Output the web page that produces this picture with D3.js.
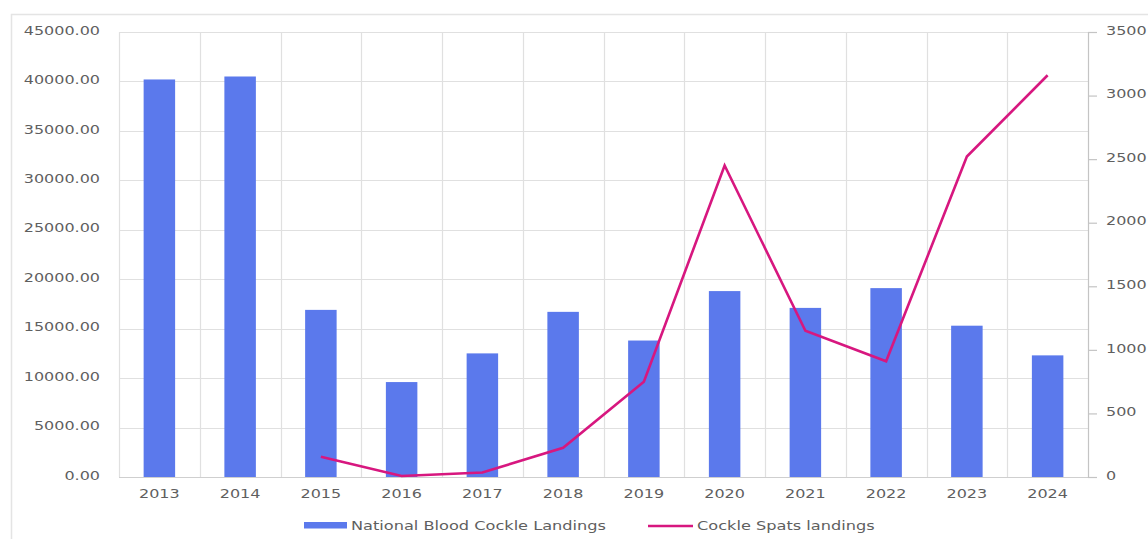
<!DOCTYPE html>
<html>
<head>
<meta charset="utf-8">
<script src="https://cdn.jsdelivr.net/npm/d3@7"></script>
<style>
  html, body { margin: 0; padding: 0; background: #fff; }
  svg { display: block; }
  text { font-family: "DejaVu Sans", sans-serif; fill: #5f5f5f; }
</style>
</head>
<body>
<svg id="chart" width="1148" height="539"></svg>
<script>
// Landings by year
const years = ["2013","2014","2015","2016","2017","2018","2019","2020","2021","2022","2023","2024"];
const bloodCockle = [40200, 40500, 16900, 9600, 12500, 16700, 13800, 18800, 17100, 19100, 15300, 12300];
const spatYears = ["2015","2016","2017","2018","2019","2020","2021","2022","2023","2024"];
const cockleSpats = [160, 8, 35, 230, 750, 2450, 1150, 910, 2520, 3160];
const leftTicks = [0, 5000, 10000, 15000, 20000, 25000, 30000, 35000, 40000, 45000];
const rightTicks = [0, 500, 1000, 1500, 2000, 2500, 3000, 3500];
const seriesNames = ["National Blood Cockle Landings", "Cockle Spats landings"];

const barColor = "#5b79ec";
const lineColor = "#d7177f";
const gridColor = "#e0e0e0";
const X_STRETCH = 1.23;

const svg = d3.select("#chart");
const m = { left: 119, right: 1088, top: 32, bottom: 477 };

const x = d3.scaleBand().domain(years).range([m.left, m.right]).paddingInner(0).paddingOuter(0);
const yL = d3.scaleLinear().domain([0, 45000]).range([m.bottom, m.top]);
const yR = d3.scaleLinear().domain([0, 3500]).range([m.bottom, m.top]);

// widen text glyphs horizontally around their anchor point
function stretch(sel, k) {
  sel.each(function () {
    const t = d3.select(this);
    const tx = +t.attr("x") || 0, ty = +t.attr("y") || 0;
    t.attr("x", 0).attr("y", 0)
     .attr("transform", `translate(${tx},${ty}) scale(${k},1)`);
  });
}

// outer frame
svg.append("rect")
  .attr("x", 11.5).attr("y", 14.5).attr("width", 1200).attr("height", 600)
  .attr("fill", "none").attr("stroke", "#e4e4e4").attr("stroke-width", 1.5);

// horizontal gridlines
svg.append("g").selectAll("line").data(leftTicks).join("line")
  .attr("x1", m.left).attr("x2", m.right)
  .attr("y1", d => Math.round(yL(d)) + 0.5).attr("y2", d => Math.round(yL(d)) + 0.5)
  .attr("stroke", gridColor).attr("stroke-width", 1.2);

// vertical gridlines at category boundaries
svg.append("g").selectAll("line").data(years).join("line")
  .attr("x1", d => Math.round(x(d)) + 0.5).attr("x2", d => Math.round(x(d)) + 0.5)
  .attr("y1", m.top).attr("y2", m.bottom)
  .attr("stroke", gridColor).attr("stroke-width", 1.2);

// bars
const bw = x.bandwidth() * 0.39;
svg.append("g").selectAll("rect").data(years.map((y, i) => ({ y, v: bloodCockle[i] }))).join("rect")
  .attr("x", d => x(d.y) + x.bandwidth() / 2 - bw / 2)
  .attr("y", d => yL(d.v))
  .attr("width", bw)
  .attr("height", d => yL(0) - yL(d.v))
  .attr("fill", barColor);

// bottom axis line
svg.append("line")
  .attr("x1", m.left).attr("x2", m.right)
  .attr("y1", m.bottom + 0.5).attr("y2", m.bottom + 0.5)
  .attr("stroke", "#cfcfcf").attr("stroke-width", 1.2);

// spat landings line
const line = d3.line()
  .x(d => x(d.y) + x.bandwidth() / 2)
  .y(d => yR(d.v));
svg.append("path")
  .datum(spatYears.map((y, i) => ({ y, v: cockleSpats[i] })))
  .attr("d", line)
  .attr("fill", "none").attr("stroke", lineColor)
  .attr("stroke-width", 2.6).attr("stroke-linejoin", "miter");

// left axis
const gL = svg.append("g").attr("transform", `translate(${m.left},0)`)
  .call(d3.axisLeft(yL).tickValues(leftTicks).tickFormat(d3.format(".2f")).tickSize(0).tickPadding(19));
gL.select(".domain").remove();
gL.selectAll("text").attr("font-size", 13).attr("dy", "0.32em").attr("y", -2)
  .style("font-family", "DejaVu Sans, sans-serif").attr("fill", "#5f5f5f");
stretch(gL.selectAll("text"), X_STRETCH);

// right axis
const gR = svg.append("g").attr("transform", `translate(${m.right},0)`)
  .call(d3.axisRight(yR).tickValues(rightTicks).tickFormat(d3.format("d")).tickSize(9).tickPadding(9));
gR.select(".domain").attr("stroke", "#c4c4c4").attr("stroke-width", 1.2);
gR.selectAll(".tick line").attr("stroke", "#c4c4c4").attr("stroke-width", 1.2);
gR.selectAll("text").attr("font-size", 13).attr("dy", "0.32em").attr("y", -2)
  .style("font-family", "DejaVu Sans, sans-serif").attr("fill", "#5f5f5f");
stretch(gR.selectAll("text"), X_STRETCH);

// bottom axis labels
const gB = svg.append("g").attr("transform", `translate(0,${m.bottom})`)
  .call(d3.axisBottom(x).tickSize(0).tickPadding(17));
gB.select(".domain").remove();
gB.selectAll("text").attr("font-size", 13).attr("dy", "0.32em")
  .style("font-family", "DejaVu Sans, sans-serif").attr("fill", "#5f5f5f");
stretch(gB.selectAll("text"), X_STRETCH);

// legend
const lg = svg.append("g");
lg.append("rect").attr("x", 304).attr("y", 522).attr("width", 43).attr("height", 6.5).attr("fill", barColor);
lg.append("text").attr("x", 351).attr("y", 525).attr("dy", "0.35em").attr("font-size", 13)
  .text(seriesNames[0]);
lg.append("line").attr("x1", 648).attr("x2", 693).attr("y1", 526).attr("y2", 526)
  .attr("stroke", lineColor).attr("stroke-width", 2.4);
lg.append("text").attr("x", 697).attr("y", 525).attr("dy", "0.35em").attr("font-size", 13)
  .text(seriesNames[1]);
stretch(lg.selectAll("text"), 1.245);
</script>
</body>
</html>
